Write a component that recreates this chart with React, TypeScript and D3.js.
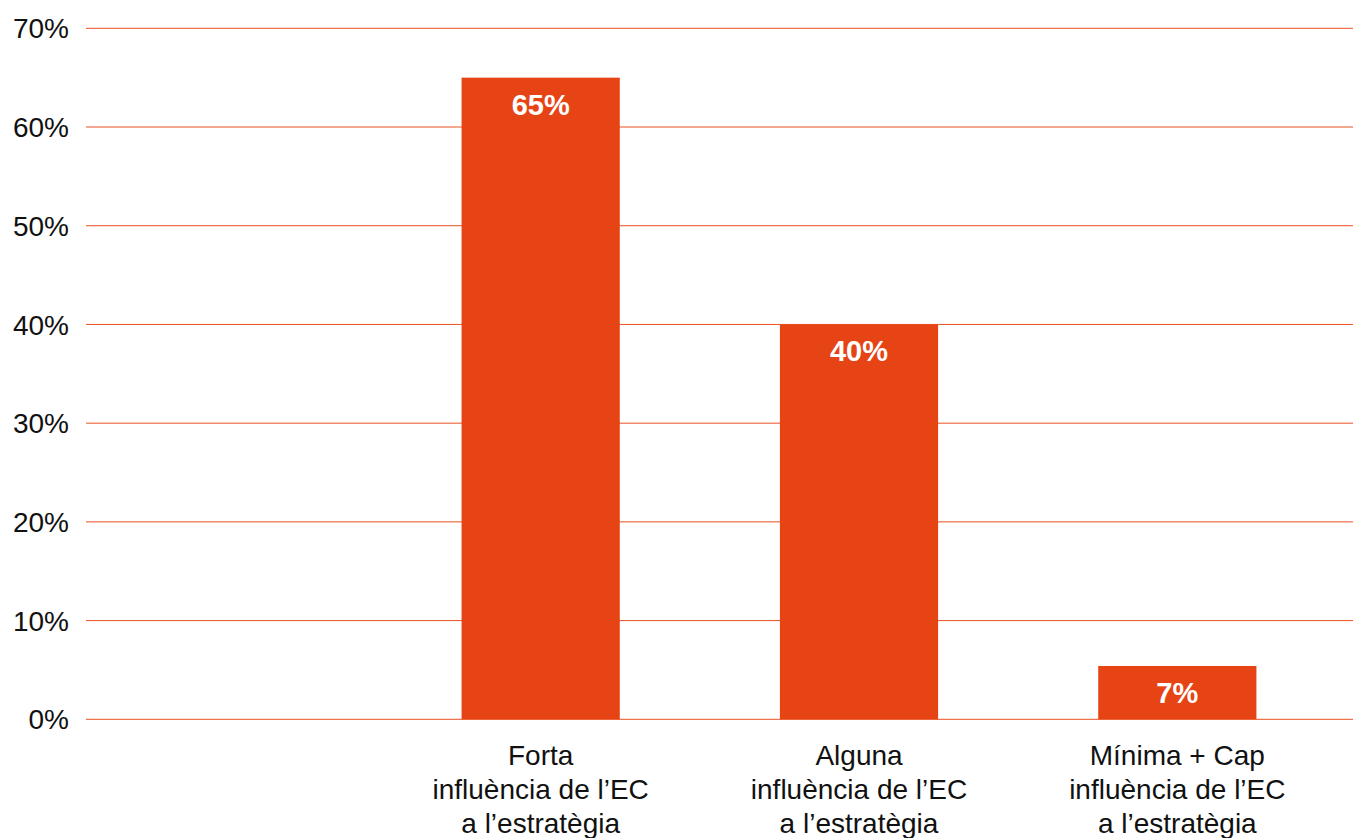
import React, { useEffect, useRef } from "react";
import * as d3 from "d3";

const categories = ["forta", "alguna", "minima"];
const categoryLines = [
  ["Forta", "influència de l’EC", "a l’estratègia"],
  ["Alguna", "influència de l’EC", "a l’estratègia"],
  ["Mínima + Cap", "influència de l’EC", "a l’estratègia"],
];
const barValues = [65, 40, 5.4];
const barLabels = ["65%", "40%", "7%"];
const yTicks = [0, 10, 20, 30, 40, 50, 60, 70];

const App: React.FC = () => {
  const svgRef = useRef<SVGSVGElement>(null);

  useEffect(() => {
    if (!svgRef.current) return;
    d3.select(svgRef.current).selectAll("*").remove();

    const width = 1362;
    const height = 838;
    const font = "'Liberation Sans', Arial, Helvetica, sans-serif";
    const orange = "#E64415";

    const svg = d3
      .select(svgRef.current)
      .attr("width", width)
      .attr("height", height)
      .style("font-family", font);

    // Scales
    const y = d3.scaleLinear().domain([0, 70]).range([719.3, 28.3]);
    const x = d3
      .scaleBand()
      .domain(categories)
      .range([382, 1336])
      .paddingInner(0.503)
      .paddingOuter(0.25);

    // Gridlines
    svg
      .append("g")
      .selectAll("line")
      .data(yTicks)
      .enter()
      .append("line")
      .attr("x1", 86)
      .attr("x2", 1353)
      .attr("y1", (d) => y(d))
      .attr("y2", (d) => y(d))
      .attr("stroke", "#E8501F")
      .attr("stroke-width", 1);

    // Y tick labels
    svg
      .append("g")
      .selectAll("text")
      .data(yTicks)
      .enter()
      .append("text")
      .attr("x", 69)
      .attr("y", (d) => y(d))
      .attr("dy", "0.36em")
      .attr("text-anchor", "end")
      .style("font-size", "28px")
      .attr("fill", "#111")
      .text((d) => `${d}%`);

    // Bars
    svg
      .append("g")
      .selectAll("rect")
      .data(barValues)
      .enter()
      .append("rect")
      .attr("x", (_, i) => x(categories[i]) || 0)
      .attr("y", (d) => y(d))
      .attr("width", x.bandwidth())
      .attr("height", (d) => y(0) - y(d))
      .attr("fill", orange);

    // Value labels
    svg
      .append("g")
      .selectAll("text")
      .data(barValues)
      .enter()
      .append("text")
      .attr("x", (_, i) => (x(categories[i]) || 0) + x.bandwidth() / 2)
      .attr("y", (d) => y(d) + 37)
      .attr("text-anchor", "middle")
      .style("font-size", "29px")
      .style("font-weight", "bold")
      .attr("fill", "#fff")
      .text((_, i) => barLabels[i]);

    // Category labels
    const cat = svg
      .append("g")
      .selectAll("text")
      .data(categories)
      .enter()
      .append("text")
      .attr("text-anchor", "middle")
      .style("font-size", "28px")
      .attr("fill", "#111")
      .attr("x", (d) => (x(d) || 0) + x.bandwidth() / 2)
      .attr("y", 765);

    cat
      .selectAll("tspan")
      .data((_, i) => categoryLines[i])
      .enter()
      .append("tspan")
      .attr("x", function () {
        return (this.parentNode as SVGTextElement).getAttribute("x");
      })
      .attr("dy", (_, j) => (j === 0 ? 0 : 34))
      .text((d) => d);
  }, []);

  return (
    <svg
      ref={svgRef}
      style={{ position: "absolute", left: 0, top: 0, display: "block", background: "#fff" }}
    ></svg>
  );
};

export default App;
